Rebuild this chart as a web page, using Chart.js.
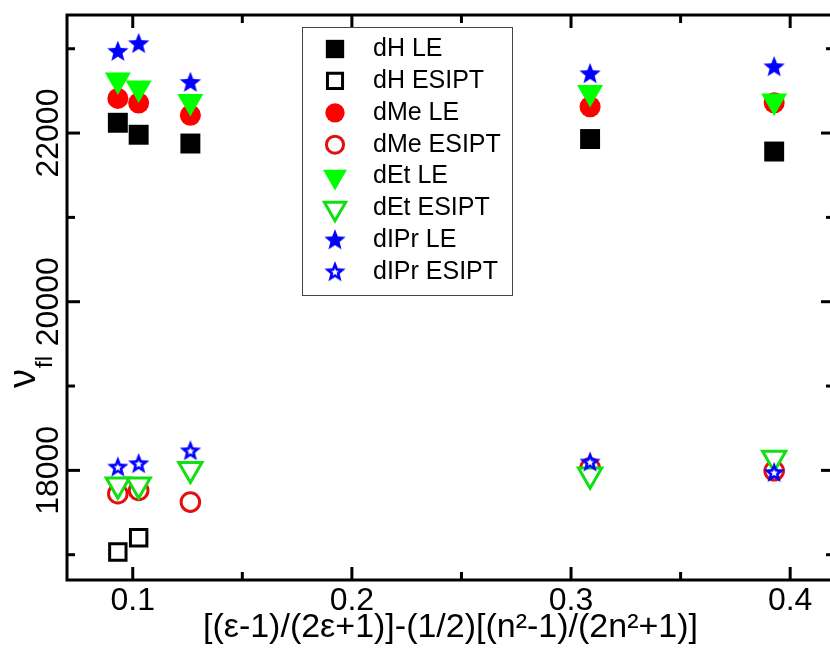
<!DOCTYPE html>
<html lang="en">
<head>
<meta charset="UTF-8">
<title>Emission maxima vs. solvent polarity</title>
<style>
  html, body { margin: 0; padding: 0; background: #fff; overflow: hidden; }
  #chartBox { width: 840px; height: 654px; }
</style>
<script src="https://cdn.jsdelivr.net/npm/chart.js"></script>
</head>
<body>
<div id="chartBox"><canvas id="chart1" width="840" height="654"></canvas></div>
<script>
// polarity function of the five solvents (x)
const polarity = [0.0932, 0.1027, 0.1263, 0.3087, 0.3927];

// fluorescence maxima, cm-1 (null = band not seen)
const dH_LE      = [22122, 21980, 21876, 21929, 21781];
const dH_ESIPT   = [17032, 17201, null, null, null];
const dMe_LE     = [22411, 22356, 22211, 22312, 22360];
const dMe_ESIPT  = [17723, 17762, 17624, 18030, 17995];
const dEt_LE     = [22628, 22533, 22375, 22482, 22381];
const dEt_ESIPT  = [17829, 17829, 18015, 17948, 18146];
const dIPr_LE    = [22963, 23055, 22595, 22698, 22780];
const dIPr_ESIPT = [18033, 18073, 18226, 18093, 17968];

const seriesNames = ['dH LE', 'dH ESIPT', 'dMe LE', 'dMe ESIPT', 'dEt LE', 'dEt ESIPT', 'dIPr LE', 'dIPr ESIPT'];

const xTicks = [0.1, 0.2, 0.3, 0.4];
const xMinorTicks = [0.15, 0.25, 0.35];
const yTicks = [18000, 20000, 22000];
const yMinorTicks = [17000, 19000, 21000, 23000];

const FONT = '"Liberation Sans", Arial, sans-serif';

// five-pointed star marker, optionally with a white hole
function starMarker(color, hollow) {
    const size = 26, R = 11.2;
    const c = document.createElement('canvas');
    c.width = c.height = size;
    const g = c.getContext('2d');
    function path(r) {
        g.beginPath();
        for (let i = 0; i < 10; i++) {
            const rr = i % 2 ? r * 0.43 : r;
            const a = -Math.PI / 2 + i * Math.PI / 5;
            g.lineTo(size / 2 + rr * Math.cos(a), size / 2 + rr * Math.sin(a));
        }
        g.closePath();
    }
    g.fillStyle = color;
    path(R);
    g.fill();
    if (hollow) {
        g.fillStyle = '#fff';
        path(R * 0.36);
        g.fill();
    }
    return c;
}

function pts(vals) {
    return polarity.map((x, i) => ({ x: x, y: vals[i] })).filter(p => p.y !== null);
}

function series(i, vals, style, radius, fill, stroke, bw, rot) {
    return {
        label: seriesNames[i],
        data: pts(vals),
        order: 8 - i,  // later series on top
        pointStyle: style,
        pointRadius: radius,
        pointHoverRadius: radius,
        pointBackgroundColor: fill,
        pointBorderColor: stroke,
        pointBorderWidth: bw,
        pointRotation: rot || 0,
        showLine: false
    };
}

const datasets = [
    series(0, dH_LE, 'rect', 14.1, '#000', '#000', 0),
    series(1, dH_ESIPT, 'rect', 11.6, '#fff', '#000', 3),
    series(2, dMe_LE, 'circle', 10.5, '#ff0000', '#ff0000', 0),
    series(3, dMe_ESIPT, 'circle', 9.3, '#fff', '#e41010', 3),
    series(4, dEt_LE, 'triangle', 15, '#00ff00', '#00ff00', 0, 180),
    series(5, dEt_ESIPT, 'triangle', 13.4, '#fff', '#10e010', 3, 180),
    series(6, dIPr_LE, starMarker('#0000ff', false), 11, '#0000ff', '#0000ff', 0),
    series(7, dIPr_ESIPT, starMarker('#0000ff', true), 11, '#0000ff', '#0000ff', 0)
];

// closed frame with inward major/minor ticks, y title and boxed legend
const framePlugin = {
    id: 'frame',
    afterDraw(chart) {
        const { ctx, chartArea: a, scales: { x, y } } = chart;
        ctx.save();
        ctx.strokeStyle = '#000';
        ctx.lineWidth = 3;
        ctx.strokeRect(a.left, a.top, a.right - a.left, a.bottom - a.top);

        function line(x1, y1, x2, y2) {
            ctx.beginPath();
            ctx.moveTo(x1, y1);
            ctx.lineTo(x2, y2);
            ctx.stroke();
        }
        function xTick(v, len) {
            const px = x.getPixelForValue(v);
            line(px, a.bottom, px, a.bottom - len);
            line(px, a.top, px, a.top + len);
        }
        function yTick(v, len) {
            const py = y.getPixelForValue(v);
            line(a.left, py, a.left + len, py);
            line(a.right, py, a.right - len, py);
        }
        xTicks.forEach(v => xTick(v, 13));
        xMinorTicks.forEach(v => xTick(v, 8));
        yTicks.forEach(v => yTick(v, 13));
        yMinorTicks.forEach(v => yTick(v, 8));

        // y axis title: nu with subscript fl
        ctx.fillStyle = '#000';
        ctx.translate(35, 388);
        ctx.rotate(-Math.PI / 2);
        ctx.textBaseline = 'alphabetic';
        ctx.textAlign = 'left';
        ctx.font = '38px ' + FONT;
        ctx.fillText('ν', 0, 0);
        const w = ctx.measureText('ν').width;
        ctx.font = '24px ' + FONT;
        ctx.fillText('fl', w + 1, 17);
        ctx.restore();

        // legend
        ctx.save();
        ctx.strokeStyle = '#444';
        ctx.lineWidth = 1;
        ctx.strokeRect(302.5, 27.5, 210, 268);
        chart.data.datasets.forEach((ds, i) => {
            const ry = 49 + i * 31.9;
            ctx.fillStyle = ds.pointBackgroundColor;
            ctx.strokeStyle = ds.pointBorderColor;
            ctx.lineWidth = ds.pointBorderWidth;
            Chart.helpers.drawPoint(ctx, {
                pointStyle: ds.pointStyle,
                rotation: ds.pointRotation,
                radius: ds.pointRadius * 0.92,
                borderWidth: ds.pointBorderWidth
            }, 335, ry);
            ctx.fillStyle = '#000';
            ctx.font = '25px ' + FONT;
            ctx.textAlign = 'left';
            ctx.textBaseline = 'middle';
            ctx.fillText(ds.label, 373, ry);
        });
        ctx.restore();
    }
};

new Chart(document.getElementById('chart1'), {
    type: 'scatter',
    data: { datasets: datasets },
    options: {
        responsive: false,
        animation: false,
        events: [],
        layout: { autoPadding: false, padding: { top: 15, right: 6, left: 0, bottom: 0 } },
        plugins: {
            legend: { display: false },
            tooltip: { enabled: false }
        },
        scales: {
            x: {
                type: 'linear',
                min: 0.07,
                max: 0.42,
                grid: { display: false, drawTicks: false },
                border: { display: false },
                afterBuildTicks: s => { s.ticks = xTicks.map(v => ({ value: v })); },
                afterFit: s => { s.height = 74; s.paddingLeft = 0; s.paddingRight = 0; },
                ticks: {
                    color: '#000',
                    padding: 2,
                    font: { family: FONT, size: 32 },
                    maxRotation: 0,
                    callback: v => v.toFixed(1)
                },
                title: {
                    display: true,
                    text: '[(ε-1)/(2ε+1)]-(1/2)[(n²-1)/(2n²+1)]',
                    color: '#000',
                    font: { family: FONT, size: 34 },
                    padding: { top: 0, bottom: 6 }
                }
            },
            y: {
                type: 'linear',
                min: 16700,
                max: 23400,
                grid: { display: false, drawTicks: false },
                border: { display: false },
                afterBuildTicks: s => { s.ticks = yTicks.map(v => ({ value: v })); },
                afterFit: s => { s.width = 67; s.paddingTop = 0; s.paddingBottom = 0; },
                ticks: {
                    color: '#000',
                    padding: -26.5,
                    crossAlign: 'center',
                    minRotation: 90,
                    maxRotation: 90,
                    font: { family: FONT, size: 32 },
                    callback: v => String(v)
                }
            }
        }
    },
    plugins: [framePlugin]
});
</script>
</body>
</html>
